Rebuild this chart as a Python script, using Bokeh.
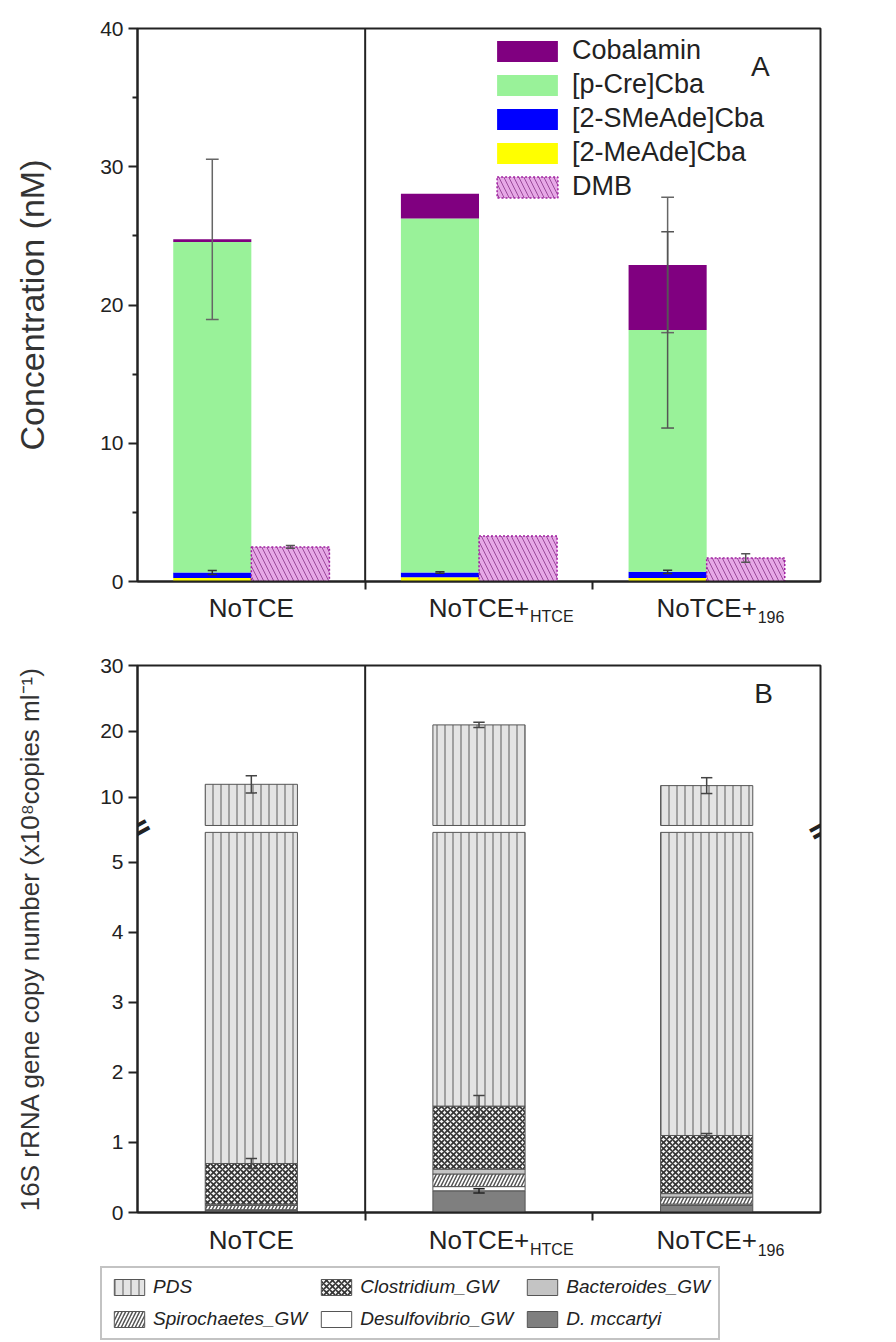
import numpy as np
from bokeh.plotting import figure
from bokeh.models import Range1d, FixedTicker, Span, Label, Legend, LegendItem, Spacer
from bokeh.layouts import column, row
from bokeh.embed import file_html
from bokeh.resources import INLINE
from bokeh.core.properties import value

# ---------------- data ----------------
categories = ["NoTCE", "NoTCE+HTCE", "NoTCE+196"]
cat_main = ["NoTCE", "NoTCE+", "NoTCE+"]
cat_sub = ["", "HTCE", "196"]

# Panel A: concentrations (nM), stacked from the bottom
mead_cba = [0.25, 0.30, 0.25]      # [2-MeAde]Cba
smead_cba = [0.40, 0.35, 0.45]     # [2-SMeAde]Cba
pcre_cba = [23.90, 25.60, 17.50]   # [p-Cre]Cba
cobalamin = [0.20, 1.80, 4.70]     # Cobalamin
dmb = [2.50, 3.30, 1.70]           # DMB
cba_total_err = [5.80, 0.00, 4.90]
pcre_err = [0.00, 0.00, 7.10]
smead_err = [0.15, 0.05, 0.12]
dmb_err = [0.10, 0.00, 0.30]

# Panel B: 16S rRNA gene copies (x10^8 copies/ml), stacked from the bottom
dmc = [0.03, 0.31, 0.10]           # D. mccartyi
desulfo = [0.01, 0.06, 0.02]       # Desulfovibrio_GW
spiro = [0.06, 0.18, 0.10]         # Spirochaetes_GW
bactero = [0.02, 0.07, 0.05]       # Bacteroides_GW
clostri = [0.58, 0.90, 0.83]       # Clostridium_GW
pds = [11.30, 19.48, 10.70]        # PDS
total_err_b = [1.30, 0.40, 1.20]
clostri_err = [0.07, 0.15, 0.03]
dmc_err = [0.00, 0.03, 0.00]

# ---------------- layout / styling ----------------
FONT = "Liberation Sans"
INK = "#222222"
FW = 683            # frame width of both panels
LEFT, RIGHT = 137, 70
xs = np.arange(len(categories)) + 0.5
boundaries = [float(i) for i in range(1, len(categories))]


def base_fig(frame_h, y_range, top, bottom, x_range):
    p = figure(frame_width=FW, frame_height=frame_h,
               min_border_left=LEFT, min_border_right=RIGHT,
               min_border_top=top, min_border_bottom=bottom,
               x_range=x_range, y_range=y_range,
               output_backend="svg", toolbar_location=None)
    p.xgrid.visible = False
    p.ygrid.visible = False
    p.outline_line_color = INK
    p.outline_line_width = 2
    for ax in p.axis:
        ax.axis_line_width = 2
        ax.axis_line_color = INK
        ax.major_tick_line_width = 2
        ax.minor_tick_line_width = 2
        ax.major_tick_line_color = INK
        ax.minor_tick_line_color = INK
        ax.major_label_text_font = FONT
        ax.axis_label_text_font = FONT
        ax.axis_label_text_font_style = "normal"
        ax.major_label_text_color = INK
        ax.axis_label_text_color = "#333333"
    xa = p.xaxis[0]
    # only category-boundary ticks (as minor ticks), no tick labels on the axis itself
    xa.ticker = FixedTicker(ticks=[], minor_ticks=boundaries)
    xa.minor_tick_in = 0
    xa.minor_tick_out = 8
    xa.major_label_standoff = 0
    ya = p.yaxis[0]
    ya.major_tick_in = 0
    ya.major_tick_out = 9
    ya.minor_tick_in = 0
    ya.minor_tick_out = 5
    ya.major_label_text_font_size = "21px"
    ya.major_label_standoff = 5
    p.add_layout(Span(location=boundaries[0], dimension="height", line_color=INK, line_width=2))
    return p


def label_strip(x_range, height, y_main, y_sub):
    s = figure(frame_width=FW, frame_height=height, x_range=x_range, y_range=Range1d(0, 1),
               min_border_left=LEFT, min_border_right=RIGHT, min_border_top=0, min_border_bottom=0,
               x_axis_type=None, y_axis_type=None, output_backend="svg", toolbar_location=None)
    s.outline_line_color = None
    s.text(x=xs, y=[y_main] * len(xs), text=cat_main, text_font=value(FONT),
           text_font_size="26px", text_align="center", text_baseline="middle", text_color=INK)
    sub_x = [x for x, t in zip(xs, cat_sub) if t]
    sub_t = [t for t in cat_sub if t]
    s.text(x=sub_x, y=[y_sub] * len(sub_x), text=sub_t, x_offset=51, text_font=value(FONT),
           text_font_size="16px", text_align="left", text_baseline="middle", text_color=INK)
    return s


def errbars(p, x, center, err, color, cap=0.03, **kw):
    x = np.asarray(x, float)
    c = np.asarray(center, float)
    e = np.asarray(err, float)
    m = e > 0
    x, c, e = x[m], c[m], e[m]
    if len(x) == 0:
        return
    p.segment(x0=x, y0=c - e, x1=x, y1=c + e, line_color=color, line_width=1.5, **kw)
    p.segment(x0=x - cap, y0=c + e, x1=x + cap, y1=c + e, line_color=color, line_width=1.5, **kw)
    p.segment(x0=x - cap, y0=c - e, x1=x + cap, y1=c - e, line_color=color, line_width=1.5, **kw)


# ---------------- Panel A ----------------
xrA = Range1d(0, len(categories))
pA = base_fig(553, Range1d(0, 40), top=28, bottom=10, x_range=xrA)
pA.yaxis[0].ticker = FixedTicker(ticks=[0, 10, 20, 30, 40], minor_ticks=[5, 15, 25, 35])
pA.yaxis[0].axis_label = "Concentration (nM)"
pA.yaxis[0].axis_label_text_font_size = "34px"
pA.yaxis[0].axis_label_standoff = 46

bw_a = 0.343
xl = xs - bw_a / 2
xr = xs + bw_a / 2
t0 = np.array(mead_cba)
t1 = t0 + np.array(smead_cba)
t2 = t1 + np.array(pcre_cba)
t3 = t2 + np.array(cobalamin)

r_mead = pA.vbar(x=xl, width=bw_a, bottom=0, top=t0, fill_color="#FFFF00", line_color=None)
r_smead = pA.vbar(x=xl, width=bw_a, bottom=t0, top=t1, fill_color="#0000FF", line_color=None)
r_pcre = pA.vbar(x=xl, width=bw_a, bottom=t1, top=t2, fill_color="#99F299", line_color=None)
r_cob = pA.vbar(x=xl, width=bw_a, bottom=t2, top=t3, fill_color="#800080", line_color=None)
r_dmb = pA.vbar(x=xr, width=bw_a, bottom=0, top=dmb, fill_color="#E6A8E6",
                hatch_pattern="\\", hatch_color="#9A4A9A", hatch_scale=10, hatch_weight=1,
                line_color="#A020A0", line_width=1.5, line_dash="2 2")

errbars(pA, xl, t3, cba_total_err, "#666666", cap=0.028)
errbars(pA, xl, t2, pcre_err, "#555555", cap=0.028)
errbars(pA, xl, t1, smead_err, "#333333", cap=0.02)
errbars(pA, xr, dmb, dmb_err, "#555555", cap=0.02)

legA = Legend(items=[LegendItem(label="Cobalamin", renderers=[r_cob]),
                     LegendItem(label="[p-Cre]Cba", renderers=[r_pcre]),
                     LegendItem(label="[2-SMeAde]Cba", renderers=[r_smead]),
                     LegendItem(label="[2-MeAde]Cba", renderers=[r_mead]),
                     LegendItem(label="DMB", renderers=[r_dmb])],
              location=(352, 379), glyph_width=76, glyph_height=26, label_height=28,
              spacing=3, padding=0, margin=0, label_standoff=7, border_line_color=None,
              background_fill_alpha=0, label_text_font=FONT, label_text_font_size="27px",
              label_text_color=INK)
pA.add_layout(legA)
pA.add_layout(Label(x=2.736, y=37.25, text="A", text_font=FONT, text_font_size="28px",
                    text_align="center", text_baseline="middle", text_color=INK))

stripA = label_strip(xrA, 50, 0.68, 0.50)

# ---------------- Panel B (broken axis) ----------------
lower = Range1d(0, 7.814)      # lower segment scale (0..5.4 visible)
upper = Range1d(-52.88, 30)    # upper segment scale (5.8..30 visible)
break_lo, break_hi = 5.43, 5.76

xrB = Range1d(0, len(categories))
pB = base_fig(547, lower, top=24, bottom=10, x_range=xrB)
pB.extra_y_ranges = {"upper": upper}


def to_lower(v):
    return (v - upper.start) / (upper.end - upper.start) * (lower.end - lower.start) + lower.start


low_ticks = [0, 1, 2, 3, 4, 5]
up_ticks = [10, 20, 30]
tick_pos = [float(t) for t in low_ticks] + [to_lower(t) for t in up_ticks]
pB.yaxis[0].ticker = FixedTicker(ticks=tick_pos)
pB.yaxis[0].major_label_overrides = {to_lower(t): str(t) for t in up_ticks}
pB.yaxis[0].axis_label = "16S rRNA gene copy number (x10\u2078copies ml\u207b\u00b9)"
pB.yaxis[0].axis_label_text_font_size = "26px"
pB.yaxis[0].axis_label_standoff = 52

bw_b = 0.405
species = [
    ("D. mccartyi", dmc, dict(fill_color="#7F7F7F")),
    ("Desulfovibrio_GW", desulfo, dict(fill_color="white")),
    ("Spirochaetes_GW", spiro, dict(fill_color="white", hatch_pattern="/", hatch_color="#555555",
                                    hatch_scale=7, hatch_weight=1.5)),
    ("Bacteroides_GW", bactero, dict(fill_color="#C4C4C4")),
    ("Clostridium_GW", clostri, dict(fill_color="#F2F2F2", hatch_pattern="x", hatch_color="#333333",
                                     hatch_scale=6, hatch_weight=1.6)),
    ("PDS", pds, dict(fill_color="#E4E4E4", hatch_pattern="|", hatch_color="#8A8A8A",
                      hatch_scale=8, hatch_weight=1.5)),
]
cum = np.zeros(len(categories))
tops = {}
for name, vals, sty in species:
    b = cum.copy()
    t = cum + np.array(vals)
    lb, lt = np.minimum(b, break_lo), np.minimum(t, break_lo)
    m = lt > lb
    if m.any():
        pB.vbar(x=xs[m], width=bw_b, bottom=lb[m], top=lt[m],
                line_color="#555555", line_width=1, **sty)
    ub, ut = np.maximum(b, break_hi), t
    m2 = ut > ub
    if m2.any():
        pB.vbar(x=xs[m2], width=bw_b, bottom=ub[m2], top=ut[m2], y_range_name="upper",
                line_color="#555555", line_width=1, **sty)
    tops[name] = t
    cum = t

errbars(pB, xs, tops["PDS"], total_err_b, "#444444", cap=0.025, y_range_name="upper")
errbars(pB, xs, tops["Clostridium_GW"], clostri_err, "#444444", cap=0.025)
errbars(pB, xs, tops["D. mccartyi"], dmc_err, "#222222", cap=0.025)

for xb in (0, len(categories)):
    pB.add_layout(Label(x=xb, y=5.49, text="=", angle=0.5, text_font="DejaVu Sans",
                        text_font_size="34px", text_font_style="bold", text_align="center",
                        text_baseline="middle", text_color=INK))
pB.add_layout(Label(x=2.75, y=7.41, text="B", text_font=FONT, text_font_size="28px",
                    text_align="center", text_baseline="middle", text_color=INK))

stripB = label_strip(xrB, 40, 0.575, 0.325)

# legend of panel B in its own small figure (swatches come from hidden copies of the bars)
legfig = figure(frame_width=790, frame_height=78, x_range=Range1d(0, 1), y_range=Range1d(0, 1),
                min_border_left=0, min_border_right=0, min_border_top=0, min_border_bottom=0,
                x_axis_type=None, y_axis_type=None, output_backend="svg", toolbar_location=None)
legfig.outline_line_color = None
leg_lookup = {}
cum = np.zeros(len(categories))
for name, vals, sty in species:
    t = cum + np.array(vals)
    r = legfig.vbar(x=xs, width=bw_b, bottom=cum, top=t, line_color="#555555", line_width=1, **sty)
    r.visible = False
    leg_lookup[name] = r
    cum = t
leg_order = ["PDS", "Clostridium_GW", "Bacteroides_GW", "Spirochaetes_GW", "Desulfovibrio_GW", "D. mccartyi"]
legB = Legend(items=[LegendItem(label=n, renderers=[leg_lookup[n]]) for n in leg_order],
              orientation="horizontal", ncols=3, location=(0, 0),
              glyph_width=38, glyph_height=20, label_standoff=5, spacing=10, padding=8, margin=0,
              border_line_color="#888888", border_line_width=2,
              inactive_fill_alpha=0,
              label_text_font=FONT, label_text_font_size="19px", label_text_font_style="italic",
              label_text_color=INK)
legfig.add_layout(legB)

layout = column(pA, stripA, pB, stripB, row(Spacer(width=100, height=78), legfig))
open("out.html", "w").write(file_html(layout, INLINE))
